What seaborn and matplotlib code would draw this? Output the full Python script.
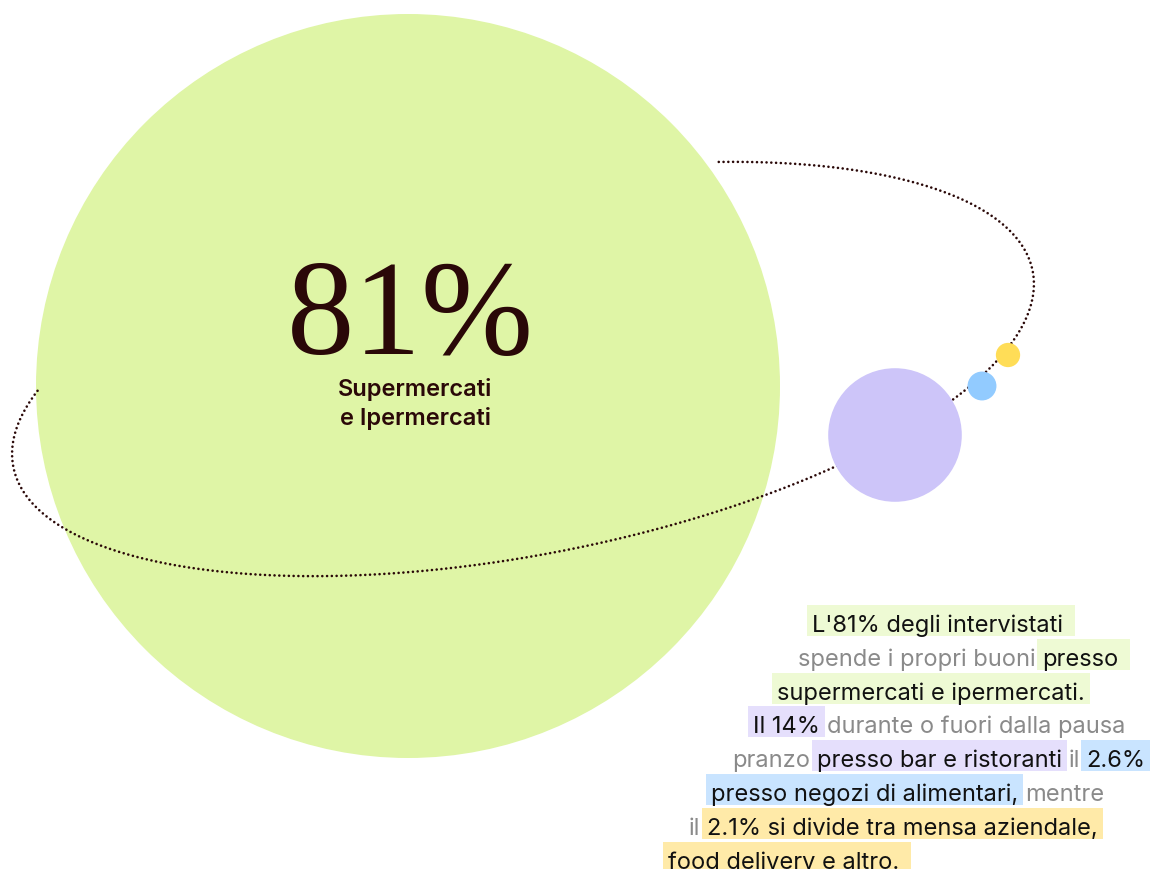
import numpy as np
import matplotlib
matplotlib.use("Agg")
import matplotlib.pyplot as plt
from matplotlib.patches import Circle, Rectangle
import seaborn as sns

# ---------------- data ----------------
categories = ["Supermercati e Ipermercati", "Bar e ristoranti",
              "Negozi di alimentari", "Mensa, delivery e altro"]
shares = [81, 14, 2.6, 2.1]
circle_colors = ["#dff5a6", "#cdc5f9", "#92cbff", "#ffdd57"]

big_label = "81%"
big_sub = ["Supermercati", "e Ipermercati"]

paragraph = [
    [("L'81% degli intervistati ", "g")],
    [("spende i propri buoni ", None), ("presso ", "g")],
    [("supermercati e ipermercati.", "g")],
    [("Il 14%", "p"), (" durante o fuori dalla pausa", None)],
    [("pranzo ", None), ("presso bar e ristoranti", "p"), (" il ", None), ("2.6%", "b")],
    [("presso negozi di alimentari,", "b"), (" mentre", None)],
    [("il ", None), ("2.1% si divide tra mensa aziendale,", "y")],
    [("food delivery e altro. ", "y")],
]

# ---------------- style ----------------
sns.set_theme(style="white")
plt.rcParams["font.family"] = ["Inter", "DejaVu Sans"]
highlight = {"g": "#eefad4", "p": "#e5dffc", "b": "#c9e4ff", "y": "#ffeaa8"}
DARK = "#2a0808"
INK = "#111111"
GRAY = "#8a8a8a"

W, H = 1153, 870
fig = plt.figure(figsize=(W / 100, H / 100), dpi=100)
ax = fig.add_axes([0, 0, 1, 1])
ax.set_xlim(0, W)
ax.set_ylim(H, 0)
ax.set_aspect("equal")
ax.axis("off")

# layout (pixel positions)
px_per_pct = 372 / 81
centers = [(408, 387), (895, 436), (982, 387), (1008, 356)]
zorders = [1, 4, 4, 4]
for val, col, (cx, cy), z in zip(shares, circle_colors, centers, zorders):
    r = val * px_per_pct
    if val < 50:
        r += 2.5
    ax.add_patch(Circle((cx, cy), r, facecolor=col,
                        edgecolor="none", zorder=z))

# orbit (front part only; back part hidden behind the large circle)
ecx, ecy, ea, eb, th = 523, 370, 519, 186, np.deg2rad(10.85)
t = np.deg2rad(np.linspace(157.9, 423.9, 800))
ex = ecx + ea * np.cos(t) * np.cos(th) - eb * np.sin(t) * np.sin(th)
ey = ecy - (ea * np.cos(t) * np.sin(th) + eb * np.sin(t) * np.cos(th))
ax.plot(ex, ey, color=DARK, lw=1.9, linestyle=(0, (0.01, 1.8)),
        dash_capstyle="round", zorder=3)

# big label
ax.text(410, 354, big_label, fontsize=97, color=DARK, ha="center",
        va="baseline", family=["Liberation Serif", "DejaVu Serif"], zorder=5)
for i, s in enumerate(big_sub):
    ax.text(415, 396 + 29 * i, s, fontsize=17, color=DARK, ha="center",
            va="baseline", fontweight="semibold", zorder=5)

# paragraph with highlighted spans
fig.canvas.draw()
renderer = fig.canvas.get_renderer()
FS = 17.0


def width(s):
    if not s:
        return 0.0
    t1 = ax.text(0, 0, s + "|", fontsize=FS)
    t2 = ax.text(0, 0, "|", fontsize=FS)
    w = t1.get_window_extent(renderer).width - t2.get_window_extent(renderer).width
    t1.remove()
    t2.remove()
    return w


line_x = [812, 798, 777, 753, 732, 711, 689, 668]
base_y0, line_gap = 632, 33.8
for i, (line, x0) in enumerate(zip(paragraph, line_x)):
    y = base_y0 + i * line_gap
    x = x0
    for seg, kind in line:
        lead = len(seg) - len(seg.lstrip(" "))
        lead_w = width(" " * lead + "x") - width("x") if lead else 0.0
        full_w = width(seg)
        if kind is not None:
            ax.add_patch(Rectangle((x - 5, y - 26), full_w + 10, 31,
                                   facecolor=highlight[kind], edgecolor="none",
                                   zorder=6))
        ax.text(x + lead_w, y, seg.strip(" "), fontsize=FS,
                color=INK if kind else GRAY, ha="left", va="baseline", zorder=7)
        x += full_w

fig.savefig("out.png", dpi=100, facecolor="white")
